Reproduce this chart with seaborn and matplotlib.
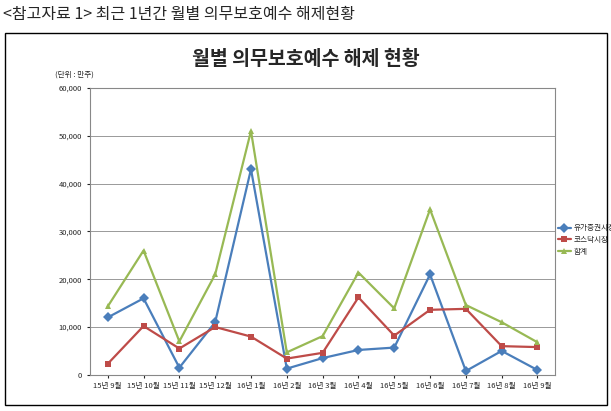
import matplotlib
matplotlib.use("Agg")
import matplotlib.pyplot as plt
import seaborn as sns
import pandas as pd
from matplotlib.patches import Rectangle

months = ["15년 9월","15년 10월","15년 11월","15년 12월","16년 1월","16년 2월","16년 3월",
          "16년 4월","16년 5월","16년 6월","16년 7월","16년 8월","16년 9월"]
kospi = [12000,16000,1500,11000,43000,1300,3500,5200,5700,21000,800,5000,1000]
kosdaq = [2300,10200,5500,10000,8000,3400,4600,16200,8200,13600,13800,6000,5800]
total = [14300,26000,7000,21000,51000,4700,8100,21400,13900,34600,14600,11000,6800]

sns.set_style("white")
plt.rcParams["font.family"] = ["Noto Sans CJK KR", "Noto Sans CJK JP", "Noto Sans CJK SC", "DejaVu Sans"]
plt.rcParams["axes.unicode_minus"] = False
fig = plt.figure(figsize=(6.11,4.11), dpi=100)
fig.text(0.005, 0.965, "<참고자료 1> 최근 1년간 월별 의무보호예수 해제현황", fontsize=11.5, va="center")
fig.patches.append(Rectangle((0.008,0.015),0.985,0.905, transform=fig.transFigure,
                             fill=False, edgecolor="black", lw=1))
fig.text(0.5, 0.855, "월별 의무보호예수 해제 현황", fontsize=14, weight="bold", ha="center", va="center")
fig.text(0.09, 0.818, "(단위 : 만주)", fontsize=5.5, ha="left", va="center")

ax = fig.add_axes([0.147, 0.088, 0.762, 0.698])
x = list(range(len(months)))
df = pd.DataFrame({"x": x*3,
                   "v": kospi+kosdaq+total,
                   "s": ["유가증권시장"]*13+["코스닥시장"]*13+["합계"]*13})
pal = {"유가증권시장":"#4a7ebb","코스닥시장":"#be4b48","합계":"#98b954"}
sns.lineplot(data=df, x="x", y="v", hue="s", style="s", palette=pal,
             markers={"유가증권시장":"D","코스닥시장":"s","합계":"^"}, dashes=False,
             markersize=5, markeredgewidth=0, lw=1.6, ax=ax)
ax.set_xlim(-0.5, 12.5)
ax.set_ylim(0, 60000)
ax.set_yticks(range(0,60001,10000))
ax.set_yticklabels([f"{v:,}" for v in range(0,60001,10000)], fontsize=5.5)
ax.set_xticks(x)
ax.set_xticklabels(months, fontsize=5.5)
ax.tick_params(length=2, left=True, bottom=True)
ax.grid(axis="y", color="#999999", lw=0.7)
ax.set_axisbelow(True)
ax.set_xlabel(""); ax.set_ylabel("")
for s in ax.spines.values():
    s.set_color("#888888")
ax.legend(loc="center left", bbox_to_anchor=(0.99, 0.47), frameon=False, fontsize=5.5,
          handlelength=1.8, handletextpad=0.3, title=None)
fig.savefig("out.png", dpi=100)
